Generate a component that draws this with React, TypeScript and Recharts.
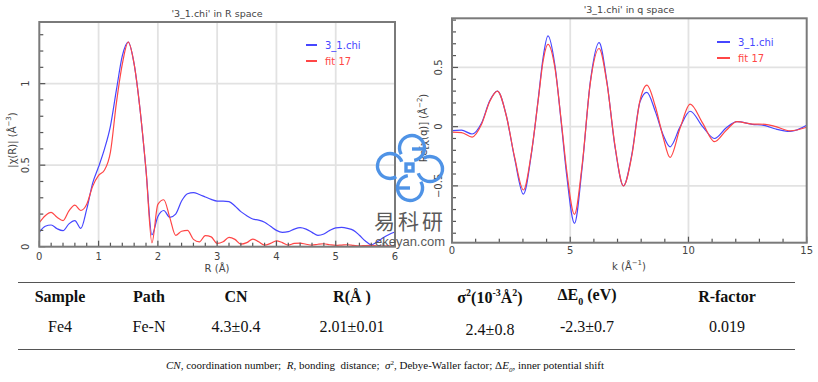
import React from "react";
import { LineChart, Line, XAxis, YAxis, ReferenceLine } from "recharts";

// R space: |chi(R)|, sampled every 0.1 Å
const rValues = [
  0, 0.1, 0.2, 0.3, 0.4, 0.5, 0.6, 0.7, 0.8, 0.9, 1, 1.1, 1.2, 1.3, 1.4, 1.5, 1.6, 1.7, 1.8, 1.9, 2,
  2.1, 2.2, 2.3, 2.4, 2.5, 2.6, 2.7, 2.8, 2.9, 3, 3.1, 3.2, 3.3, 3.4, 3.5, 3.6, 3.7, 3.8, 3.9, 4,
  4.1, 4.2, 4.3, 4.4, 4.5, 4.6, 4.7, 4.8, 4.9, 5, 5.1, 5.2, 5.3, 5.4, 5.5, 5.6, 5.7, 5.8, 5.9, 6,
];
const rData31 = [
  0.088, 0.125, 0.133, 0.11, 0.098, 0.14, 0.16, 0.112, 0.23, 0.39, 0.49, 0.6, 0.74, 0.96, 1.17, 1.255,
  1.12, 0.84, 0.47, 0.072, 0.185, 0.222, 0.18, 0.2, 0.28, 0.325, 0.332, 0.32, 0.305, 0.29, 0.28, 0.28,
  0.276, 0.25, 0.215, 0.19, 0.17, 0.163, 0.15, 0.125, 0.1, 0.088, 0.092, 0.108, 0.117, 0.108, 0.088,
  0.07, 0.078, 0.1, 0.115, 0.118, 0.112, 0.1, 0.07, 0.035, 0.012, 0.03, 0.055, 0.075, 0.09,
];
const rFit17 = [
  0.147, 0.19, 0.21, 0.18, 0.16, 0.22, 0.255, 0.222, 0.26, 0.37, 0.437, 0.47, 0.58, 0.88, 1.12, 1.255,
  1.12, 0.84, 0.47, 0.024, 0.26, 0.288, 0.18, 0.07, 0.095, 0.1, 0.045, 0.03, 0.068, 0.06, 0.02, 0.03,
  0.057, 0.045, 0.016, 0.025, 0.047, 0.03, 0.01, 0.02, 0.036, 0.025, 0.01, 0.02, 0.022, 0.015, 0.01,
  0.015, 0.018, 0.012, 0.008, 0.01, 0.012, 0.008, 0.005, 0.007, 0.008, 0.005, 0.004, 0.005, 0.006,
];

// q space: Re[chi(q)]
const kValues = [
  0, 0.4, 0.85, 1.25, 1.6, 1.92, 2.3, 2.65, 3.02, 3.35, 3.65, 3.85, 4.06, 4.35, 4.63, 4.85, 5.18, 5.5,
  5.85, 6.22, 6.55, 6.9, 7.25, 7.6, 7.95, 8.24, 8.6, 8.93, 9.22, 9.65, 10.07, 10.6, 11.1, 11.6, 12.05,
  12.7, 13.25, 13.7, 14.3, 15,
];
const kData31 = [
  -0.034, -0.03, -0.062, 0.03, 0.22, 0.3, 0.09, -0.27, -0.57, -0.24, 0.24, 0.58, 0.766, 0.52, 0.014,
  -0.41, -0.816, -0.35, 0.38, 0.71, 0.38, -0.18, -0.5, -0.24, 0.21, 0.29, 0.127, -0.07, -0.17, 0,
  0.13, 0, -0.1, -0.01, 0.042, 0.02, 0.008, -0.02, -0.04, 0.012,
];
const kFit17 = [
  -0.047, -0.05, -0.088, 0.02, 0.215, 0.3, 0.09, -0.26, -0.535, -0.23, 0.23, 0.55, 0.695, 0.5, 0.03,
  -0.37, -0.74, -0.33, 0.37, 0.66, 0.37, -0.17, -0.5, -0.25, 0.22, 0.35, 0.17, -0.09, -0.26, -0.01,
  0.19, 0.03, -0.127, -0.03, 0.042, 0.022, 0.02, 0, -0.035, -0.005,
];

const rXMajor = [0, 1, 2, 3, 4, 5, 6];
const rYMajor = [0, 0.5, 1];
const kXMajor = [0, 5, 10, 15];
const kYMajor = [-0.5, 0, 0.5];

const tableHead = ["Sample", "Path", "CN", "R(Å )", "σ2", "ΔE0 (eV)", "R-factor"];
const tableRow = ["Fe4", "Fe-N", "4.3±0.4", "2.01±0.01", "2.4±0.8", "-2.3±0.7", "0.019"];
const colX = [60, 149, 236, 352, 490, 587, 727];

const rData = rValues.map((r, i) => ({ x: r, a: rData31[i], b: rFit17[i] }));
const kData = kValues.map((k, i) => ({ x: k, a: kData31[i], b: kFit17[i] }));

const range = (a: number, b: number, s: number) => {
  const out: number[] = [];
  for (let v = a; v <= b + 1e-9; v += s) out.push(Math.round(v * 1000) / 1000);
  return out;
};

const BLUE = "#4646ff";
const RED = "#ff4646";
const FRAME = "#7a7a7a";
const TICK = "#555";
const PLOT_FONT = "'DejaVu Sans', sans-serif";

const isMajor = (v: number, majors: number[]) => majors.some((m) => Math.abs(m - v) < 1e-6);
const fmt = (v: number) => String(v).replace("-", "−");

// tick marks point into the plot; labels only on major values
function makeTick(side: "bottom" | "top" | "left" | "right", majors: number[], labelGap = 10) {
  return (props: any) => {
    const { x, y, payload } = props;
    const v = payload.value as number;
    const major = isMajor(v, majors);
    const len = major ? 6 : 4;
    let line: React.ReactNode = null;
    let label: React.ReactNode = null;
    if (side === "bottom") {
      line = <rect x={x - 0.6} y={y - len} width={1.2} height={len} fill={TICK} />;
      if (major)
        label = (
          <text x={x} y={y + labelGap} dy="0.35em" textAnchor="middle" fontSize={10} fill="#444" fontFamily={PLOT_FONT}>
            {fmt(v)}
          </text>
        );
    } else if (side === "top") {
      line = <rect x={x - 0.6} y={y} width={1.2} height={len} fill={TICK} />;
    } else if (side === "left") {
      line = <rect x={x} y={y - 0.6} width={len} height={1.2} fill={TICK} />;
      if (major)
        label = (
          <text
            x={x - labelGap}
            y={y}
            textAnchor="middle"
            fontSize={10}
            fill="#444"
            fontFamily={PLOT_FONT}
            transform={`rotate(-90, ${x - labelGap}, ${y})`}
          >
            {fmt(v)}
          </text>
        );
    } else {
      line = <rect x={x - len} y={y - 0.6} width={len} height={1.2} fill={TICK} />;
    }
    return (
      <g>
        {line}
        {label}
      </g>
    );
  };
}

function Legend({ left, top, lineW }: { left: number; top: number; lineW: number }) {
  const item = (color: string, text: string, dy: number) => (
    <div style={{ position: "absolute", left, top: top + dy, display: "flex", alignItems: "center", height: 12 }}>
      <div style={{ width: lineW, height: 1.5, background: color }} />
      <span style={{ marginLeft: 8, fontSize: 10, color, fontFamily: PLOT_FONT, whiteSpace: "nowrap" }}>{text}</span>
    </div>
  );
  return (
    <>
      {item(BLUE, "3_1.chi", 0)}
      {item(RED, "fit  17", 16)}
    </>
  );
}

function Txt({ x, y, children, size = 10, rotate = false }: any) {
  return (
    <div
      style={{
        position: "absolute",
        left: x,
        top: y,
        transform: `translate(-50%, -50%)${rotate ? " rotate(-90deg)" : ""}`,
        fontSize: size,
        fontFamily: PLOT_FONT,
        color: "#444",
        whiteSpace: "nowrap",
        lineHeight: 1,
      }}
    >
      {children}
    </div>
  );
}

function arcPath(cx: number, cy: number, r: number, from: number, to: number) {
  const a1 = (from * Math.PI) / 180;
  const a2 = (to * Math.PI) / 180;
  const x1 = cx + r * Math.cos(a1);
  const y1 = cy + r * Math.sin(a1);
  const x2 = cx + r * Math.cos(a2);
  const y2 = cy + r * Math.sin(a2);
  return `M ${x1} ${y1} A ${r} ${r} 0 1 1 ${x2} ${y2}`;
}

// plot frames (matching the chart margins) and the site watermark, drawn over the charts
function Overlay() {
  const c = "#4f93e6";
  return (
    <div style={{ position: "absolute", left: 0, top: 0, width: 818, height: 382, pointerEvents: "none" }}>
      <svg width={818} height={382} style={{ position: "absolute", left: 0, top: 0 }}>
        <rect x={39.3} y={22} width={355.7} height={224.7} fill="none" stroke={FRAME} strokeWidth={2} />
        <rect x={452} y={18.3} width={354.7} height={224.4} fill="none" stroke={FRAME} strokeWidth={2} />
        <g fill="none" stroke={c} strokeWidth={3.4} strokeLinecap="butt">
          <path d={arcPath(412, 148, 12.5, 150, 80)} />
          <line x1={412} y1={149} x2={425} y2={149} />
          <path d={arcPath(390, 166, 12.5, 60, -20)} />
          <path d={arcPath(430, 169, 12.5, 240, 160)} />
          <path d={arcPath(410, 188, 12.5, 330, 260)} />
          <line x1={397} y1={188} x2={410} y2={188} />
          <rect x={406} y={164} width={7} height={7} />
        </g>
      </svg>
      <div
        style={{
          position: "absolute",
          left: 410,
          top: 220,
          transform: "translate(-50%, -50%)",
          fontSize: 21,
          lineHeight: 1,
          color: "#5a5a5a",
          fontFamily: "'Noto Sans CJK SC', sans-serif",
          letterSpacing: 3,
          whiteSpace: "nowrap",
        }}
      >
        易科研
      </div>
      <div
        style={{
          position: "absolute",
          left: 410,
          top: 241,
          transform: "translate(-50%, -50%)",
          fontSize: 13,
          lineHeight: 1,
          color: "#5a5a5a",
          fontFamily: "'Liberation Sans', sans-serif",
          whiteSpace: "nowrap",
        }}
      >
        ekeyan.com
      </div>
    </div>
  );
}

function RChart() {
  return (
    <LineChart width={410} height={280} data={rData} margin={{ top: 22, right: 15, bottom: 0, left: 0 }}>
      <XAxis xAxisId="b" dataKey="x" type="number" domain={[0, 6]} ticks={range(0, 6, 0.2)} height={33.3}
        tickSize={0} tickMargin={0} axisLine={false} tickLine={false} tick={makeTick("bottom", rXMajor, 10)} interval={0} />
      <XAxis xAxisId="t" orientation="top" dataKey="x" type="number" domain={[0, 6]} ticks={range(0, 6, 0.2)} height={0}
        tickSize={0} tickMargin={0} axisLine={false} tickLine={false} tick={makeTick("top", rXMajor)} interval={0} />
      <YAxis yAxisId="l" type="number" domain={[0, 1.378]} ticks={range(0, 1.3, 0.1)} width={39.3}
        tickSize={0} tickMargin={0} axisLine={false} tickLine={false} tick={makeTick("left", rYMajor, 10)} interval={0} allowDataOverflow />
      <YAxis yAxisId="r" orientation="right" type="number" domain={[0, 1.378]} ticks={range(0, 1.3, 0.1)} width={0}
        tickSize={0} tickMargin={0} axisLine={false} tickLine={false} tick={makeTick("right", rYMajor)} interval={0} />
      {rXMajor.slice(1, -1).map((v) => (
        <ReferenceLine key={"vx" + v} xAxisId="b" yAxisId="l" x={v} stroke="#e2e2e2" strokeWidth={1.8} />
      ))}
      {rYMajor.slice(1).map((v) => (
        <ReferenceLine key={"hy" + v} xAxisId="b" yAxisId="l" y={v} stroke="#e2e2e2" strokeWidth={1.8} />
      ))}
      <Line xAxisId="b" yAxisId="l" type="monotone" dataKey="a" stroke={BLUE} strokeWidth={1.2} dot={false} isAnimationActive={false} />
      <Line xAxisId="b" yAxisId="l" type="monotone" dataKey="b" stroke={RED} strokeWidth={1.2} dot={false} isAnimationActive={false} />
    </LineChart>
  );
}

function KChart() {
  return (
    <LineChart width={408} height={280} data={kData} margin={{ top: 18.3, right: 11.3, bottom: 0, left: 0 }}>
      <XAxis xAxisId="b" dataKey="x" type="number" domain={[0, 15]} ticks={range(0, 15, 1)} height={37.3}
        tickSize={0} tickMargin={0} axisLine={false} tickLine={false} tick={makeTick("bottom", kXMajor, 8)} interval={0} />
      <XAxis xAxisId="t" orientation="top" dataKey="x" type="number" domain={[0, 15]} ticks={range(0, 15, 1)} height={0}
        tickSize={0} tickMargin={0} axisLine={false} tickLine={false} tick={makeTick("top", kXMajor)} interval={0} />
      <YAxis yAxisId="l" type="number" domain={[-0.98, 0.915]} ticks={range(-0.9, 0.9, 0.1)} width={42}
        tickSize={0} tickMargin={0} axisLine={false} tickLine={false} tick={makeTick("left", kYMajor, 10)} interval={0} allowDataOverflow />
      <YAxis yAxisId="r" orientation="right" type="number" domain={[-0.98, 0.915]} ticks={range(-0.9, 0.9, 0.1)} width={0}
        tickSize={0} tickMargin={0} axisLine={false} tickLine={false} tick={makeTick("right", kYMajor)} interval={0} allowDataOverflow />
      {kXMajor.slice(1, -1).map((v) => (
        <ReferenceLine key={"vx" + v} xAxisId="b" yAxisId="l" x={v} stroke="#e2e2e2" strokeWidth={1.8} />
      ))}
      {kYMajor.map((v) => (
        <ReferenceLine key={"hy" + v} xAxisId="b" yAxisId="l" y={v} stroke="#e2e2e2" strokeWidth={1.8} />
      ))}
      <Line xAxisId="b" yAxisId="l" type="monotone" dataKey="a" stroke={BLUE} strokeWidth={1.2} dot={false} isAnimationActive={false} />
      <Line xAxisId="b" yAxisId="l" type="monotone" dataKey="b" stroke={RED} strokeWidth={1.2} dot={false} isAnimationActive={false} />
    </LineChart>
  );
}

const SERIF = "'Liberation Serif', 'Times New Roman', serif";

function Cell({ x, y, bold, children, size = 16 }: any) {
  return (
    <div
      style={{
        position: "absolute",
        left: x,
        top: y,
        transform: "translate(-50%, -50%)",
        fontFamily: SERIF,
        fontWeight: bold ? "bold" : "normal",
        fontSize: size,
        color: "#111",
        whiteSpace: "nowrap",
        lineHeight: 1,
      }}
    >
      {children}
    </div>
  );
}

function Table() {
  const head = tableHead.map((h, i) => {
    let content: React.ReactNode = h;
    if (i === 4)
      content = (
        <>
          σ<sup style={{ fontSize: 10 }}>2</sup>(10<sup style={{ fontSize: 10 }}>-3</sup>Å<sup style={{ fontSize: 10 }}>2</sup>)
        </>
      );
    if (i === 5)
      content = (
        <>
          ΔE<sub style={{ fontSize: 10 }}>0</sub> (eV)
        </>
      );
    return (
      <Cell key={"h" + i} x={colX[i]} y={297} bold>
        {content}
      </Cell>
    );
  });
  const row = tableRow.map((v, i) => (
    <Cell key={"r" + i} x={colX[i]} y={i === 4 ? 330 : 327}>
      {v}
    </Cell>
  ));
  return (
    <>
      <div style={{ position: "absolute", left: 18, top: 281.5, width: 777, height: 1.5, background: "#555" }} />
      <div style={{ position: "absolute", left: 18, top: 348.5, width: 777, height: 1.5, background: "#555" }} />
      {head}
      {row}
      <div
        style={{
          position: "absolute",
          left: 385,
          top: 367,
          transform: "translate(-50%, -50%)",
          fontFamily: SERIF,
          fontSize: 11,
          color: "#111",
          whiteSpace: "nowrap",
          lineHeight: 1,
        }}
      >
        <i>CN</i>, coordination number;&nbsp; <i>R</i>, bonding&nbsp; distance;&nbsp; <i>σ</i>
        <sup style={{ fontSize: 7 }}>2</sup>, Debye-Waller factor; Δ<i>E</i>
        <sub style={{ fontSize: 7 }}>
          <i>0</i>
        </sub>
        , inner potential shift
      </div>
    </>
  );
}

export default function App() {
  return (
    <div style={{ position: "absolute", left: 0, top: 0, width: 818, height: 382, background: "#fff", overflow: "hidden" }}>
      <div style={{ position: "absolute", left: 0, top: 0 }}>
        <RChart />
      </div>
      <div style={{ position: "absolute", left: 410, top: 0 }}>
        <KChart />
      </div>
      <Txt x={217} y={14} size={9.5}>'3_1.chi' in R space</Txt>
      <Txt x={629} y={10} size={9.5}>'3_1.chi' in q space</Txt>
      <Txt x={217} y={269}>R (Å)</Txt>
      <Txt x={629} y={266}>
        k (Å<sup style={{ fontSize: 7 }}>−1</sup>)
      </Txt>
      <Txt x={12} y={140} rotate>
        |χ(R)| (Å<sup style={{ fontSize: 7 }}>−3</sup>)
      </Txt>
      <Txt x={423} y={128} rotate>
        Re[χ(q)] (Å<sup style={{ fontSize: 7 }}>−2</sup>)
      </Txt>
      <Legend left={306} top={39} lineW={11} />
      <Legend left={717} top={36} lineW={13} />
      <Overlay />
      <Table />
    </div>
  );
}
